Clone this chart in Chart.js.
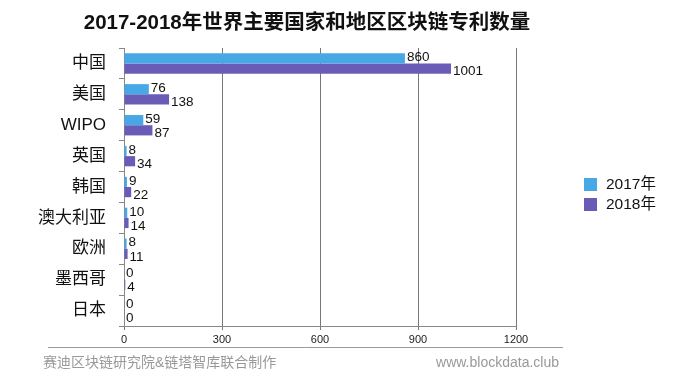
<!DOCTYPE html>
<html>
<head>
<meta charset="utf-8">
<script src="https://cdn.jsdelivr.net/npm/chart.js@4.4.0/dist/chart.umd.min.js"></script>
<style>
    html, body { margin: 0; padding: 0; background: #ffffff; }
    #wrap { width: 673px; height: 376px; position: relative; }
</style>
</head>
<body>
<div id="wrap"><canvas id="patentChart"></canvas></div>
<script>
const categories = ["中国", "美国", "WIPO", "英国", "韩国", "澳大利亚", "欧洲", "墨西哥", "日本"];
const values2017 = [860, 76, 59, 8, 9, 10, 8, 0, 0];
const values2018 = [1001, 138, 87, 34, 22, 14, 11, 4, 0];
const xTicks = [0, 300, 600, 900, 1200];

const FONT = '"Liberation Sans", "Noto Sans CJK SC", sans-serif';
const BLUE = "#48a8e6";
const PURPLE = "#6a5cb6";

// title, legend, value labels and footer
const extrasPlugin = {
    id: "extras",
    afterDatasetsDraw(chart) {
        const ctx = chart.ctx;
        ctx.save();

        ctx.font = "13.5px " + FONT;
        ctx.fillStyle = "#111";
        ctx.textAlign = "left";
        ctx.textBaseline = "middle";
        chart.data.datasets.forEach(function (ds, i) {
            const meta = chart.getDatasetMeta(i);
            meta.data.forEach(function (bar, j) {
                const dy = i === 0 ? -1 : 3;
                ctx.fillText(String(ds.data[j]), bar.x + 2, bar.y + dy);
            });
        });

        ctx.font = "bold 20.5px " + FONT;
        ctx.textAlign = "center";
        ctx.fillStyle = "#111";
        ctx.fillText("2017-2018年世界主要国家和地区区块链专利数量", 307, 23);

        ctx.textAlign = "left";
        ctx.font = "15.5px " + FONT;
        chart.data.datasets.forEach(function (ds, i) {
            const y = 184 + i * 20;
            ctx.fillStyle = ds.backgroundColor;
            ctx.fillRect(584, y - 6, 13, 13);
            ctx.fillStyle = "#111";
            ctx.fillText(ds.label, 606, y + 1);
        });

        ctx.strokeStyle = "#999";
        ctx.lineWidth = 1;
        ctx.beginPath();
        ctx.moveTo(48, 347.5);
        ctx.lineTo(563, 347.5);
        ctx.stroke();

        ctx.font = "14px " + FONT;
        ctx.fillStyle = "#999";
        ctx.fillText("赛迪区块链研究院&链塔智库联合制作", 43, 363);
        ctx.textAlign = "right";
        ctx.fillText("www.blockdata.club", 559, 363);

        ctx.restore();
    }
};

new Chart(document.getElementById("patentChart"), {
    type: "bar",
    data: {
        labels: categories,
        datasets: [
            {
                label: "2017年",
                data: values2017,
                backgroundColor: BLUE,
                categoryPercentage: 0.66,
                barPercentage: 1.0,
            },
            {
                label: "2018年",
                data: values2018,
                backgroundColor: PURPLE,
                categoryPercentage: 0.66,
                barPercentage: 1.0,
            },
        ],
    },
    options: {
        indexAxis: "y",
        responsive: true,
        maintainAspectRatio: false,
        animation: false,
        layout: {
            padding: { top: 48, right: 157, bottom: 30, left: 0 },
        },
        plugins: {
            legend: { display: false },
            tooltip: { enabled: false },
        },
        scales: {
            x: {
                min: 0,
                max: 1200,
                afterBuildTicks(scale) {
                    scale.ticks = xTicks.map(function (v) { return { value: v }; });
                },
                afterFit(scale) {
                    scale.height = 20;
                },
                grid: {
                    color: "#777",
                    tickLength: 4,
                },
                border: { color: "#888" },
                ticks: {
                    color: "#222",
                    padding: 3,
                    font: { family: FONT, size: 11 },
                    callback(value) {
                        return String(value);
                    },
                },
            },
            y: {
                afterFit(scale) {
                    scale.width = 124;
                },
                grid: {
                    drawOnChartArea: false,
                    offset: true,
                    tickLength: 5,
                    color: "#888",
                },
                border: { color: "#888" },
                ticks: {
                    color: "#111",
                    padding: 13,
                    font: { family: FONT, size: 17 },
                },
            },
        },
    },
    plugins: [extrasPlugin],
});
</script>
</body>
</html>
